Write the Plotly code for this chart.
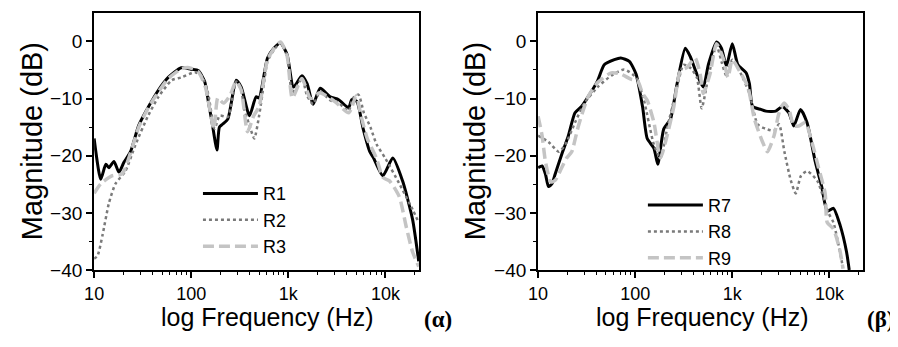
import plotly.graph_objects as go

# ---------------- Panel (α) ----------------
r1_f = [10, 11.7, 13.2, 14.2, 16, 18, 20.2, 23.7, 28.8, 36.4, 46, 58, 79, 100, 118, 138, 150, 165, 184, 195,
        210, 238, 290, 327, 398, 465, 500, 610, 710, 830, 970, 1130, 1380, 1560, 1800, 2130, 2700, 3300,
        4170, 4500, 5080, 5900, 6900, 7500, 9400, 11900, 15000, 19000, 22000]
r1_db = [-17, -24.1, -21.5, -22.1, -21, -22.9, -21.2, -19.3, -14.7, -11.4, -8.5, -6.3, -4.6, -4.9, -5.1, -7.1,
         -10.5, -14.5, -19, -15, -14.5, -13.6, -6.8, -8, -13, -9.7, -9.9, -2.9, -1.2, -0.3, -2.3, -8, -6,
         -7.4, -11, -8.2, -9.7, -10.2, -11.6, -10.2, -10.5, -15.3, -19.3, -20.3, -23.5, -20.4, -24.4, -31.1,
         -38.5]

r2_f = [10, 10.8, 12.2, 14.2, 16.6, 21, 26.6, 36, 46, 63, 79, 109, 127, 149, 174, 196, 238, 290, 327, 352,
        398, 446, 500, 560, 610, 710, 830, 970, 1100, 1380, 1560, 1800, 2130, 2700, 3300, 4170, 4600, 5270,
        6000, 7000, 8100, 10000, 13900, 19000, 22000]
r2_db = [-38, -37.6, -33.9, -28.3, -24.9, -22.7, -18.1, -13, -9.7, -6.8, -6.3, -5.4, -6, -9.1, -15.3, -13,
         -13.2, -7, -8.5, -11.9, -14.7, -17, -13, -7.4, -3.5, -1.5, -0.3, -2.5, -9, -6.5, -9.5, -11, -8.8,
         -10.3, -10.8, -12.2, -10, -9.3, -12.5, -15, -18, -20.5, -24.9, -29.4, -31.7]

r3_f = [10, 11.7, 15.4, 19.4, 23.7, 28.8, 36.4, 46, 58, 79, 95, 118, 140, 171, 188, 215, 250, 290, 327, 380,
        440, 500, 610, 710, 830, 970, 1100, 1380, 1700, 2100, 3000, 4200, 5000, 5600, 6500, 8100, 9400,
        11000, 13900, 16300, 19000, 22000]
r3_db = [-26.6, -24.9, -23.5, -23.2, -19.5, -15, -11.5, -8.8, -6.5, -4.8, -4.6, -5.3, -8, -15.3, -9.9, -10.8,
         -9.5, -7, -8.5, -15.8, -13, -11.4, -3.2, -1.3, -0.1, -2.5, -9.9, -6.5, -10, -9, -10.5, -12.5, -9.5,
         -13, -17, -20.5, -23.8, -24.4, -27.2, -32.3, -36.8, -39.4]

# ---------------- Panel (β) ----------------
r7_f = [10, 11, 11.9, 12.8, 13.9, 15, 17.5, 20.5, 24, 28, 32.7, 41, 48, 61, 71, 87, 102, 119, 133, 156, 171,
        197, 231, 270, 328, 368, 431, 503, 566, 688, 773, 869, 1000, 1142, 1387, 1500, 1622, 1970, 2217,
        2800, 3270, 3830, 4300, 5035, 5880, 7140, 8350, 9500, 11000, 12900, 15000, 16000]
r7_db = [-22.1, -21.8, -23.2, -25.4, -24.9, -23.2, -19.8, -16.5, -12.5, -11.4, -9.7, -6.9, -4.1, -3.2, -2.9,
         -3.5, -5.7, -11.4, -17, -18.7, -21.5, -15.3, -13.6, -7.4, -1.2, -2.6, -5.7, -8, -4.1, -0.1, -1.2,
         -4.3, -0.4, -4.1, -5.5, -7.4, -11.4, -11.9, -12.2, -12.2, -11.4, -12.5, -14.8, -11.9, -14.2, -21,
         -25.5, -29.7, -29.2, -32.2, -36.8, -40]

r8_f = [10, 12.8, 16.3, 19, 24, 30, 41, 56.6, 77, 102, 123, 156, 182, 213, 270, 315, 368, 431, 484, 566, 688,
        773, 869, 1000, 1190, 1500, 1823, 2217, 2690, 3030, 3440, 4000, 4500, 5100, 5900, 7500, 9770, 11000,
        13800]
r8_db = [-16.5, -17.6, -19.3, -18.1, -14.2, -10.8, -8, -6, -4.9, -6.3, -10.3, -18.1, -20.4, -15.3, -8, -4.1,
         -4.6, -6.3, -11.7, -6.3, -0.7, -3.5, -6, -3.2, -5.2, -9.1, -14.5, -15.3, -15.6, -14.5, -19.3, -24.3,
         -26.6, -23.5, -22.7, -24.4, -30, -31.7, -39.6]

r9_f = [10, 11, 11.9, 13.5, 15, 17.5, 19.7, 22.2, 26, 32.7, 41, 56.6, 71, 90, 106, 119, 133, 156, 182, 213,
        250, 291, 340, 414, 466, 503, 589, 688, 804, 903, 1000, 1190, 1450, 1690, 2050, 2300, 2690, 3030,
        3400, 3830, 4300, 4840, 5650, 6600, 7730, 9040, 9500, 11000, 12900, 13800]
r9_db = [-13.1, -16.5, -21, -24.6, -24.3, -22.1, -20.4, -19.3, -14.8, -9.7, -7.2, -5.5, -5.7, -6.6, -6.9,
         -9.1, -10.3, -14.2, -20.4, -16.5, -11.4, -5.2, -4.6, -2.9, -5.7, -9.1, -5.7, -0.4, -2.9, -6.3, -3.2,
         -5.2, -8, -13.6, -17.6, -19.3, -16.5, -12.5, -10.8, -11.9, -14.8, -14.8, -14.2, -17.6, -22.1, -26.6,
         -31.7, -32.8, -36.8, -39.8]

major_x = [10, 100, 1000, 10000]
major_x_text = ["10", "100", "1k", "10k"]
minor_x = [m * d for d in (10, 100, 1000) for m in range(2, 10)] + [20000]
major_y = [-40, -30, -20, -10, 0]
minor_y = [-35, -25, -15, -5]

FONT = "Liberation Sans, Arial, sans-serif"
OFF = 8                                # default page (body) margin of the html page
W, H = 898 - OFF, 347 - 2 * OFF        # figure size so that the page never needs scrollbars


def px(x):   # page pixel -> paper x
    return (x - OFF) / W


def py(y):   # page pixel (from top) -> paper y
    return 1 - (y - OFF) / H


styles = {
    "solid": dict(color="#000000", width=3, dash="solid"),
    "dot": dict(color="#7a7a7a", width=2.5, dash="dot"),
    "dash": dict(color="#c4c4c4", width=3.5, dash="11px,5px"),
}

fig = go.Figure()
series = [
    ("R1", r1_f, r1_db, "solid", "x", "y", "legend"),
    ("R2", r2_f, r2_db, "dot", "x", "y", "legend"),
    ("R3", r3_f, r3_db, "dash", "x", "y", "legend"),
    ("R7", r7_f, r7_db, "solid", "x2", "y2", "legend2"),
    ("R8", r8_f, r8_db, "dot", "x2", "y2", "legend2"),
    ("R9", r9_f, r9_db, "dash", "x2", "y2", "legend2"),
]
for name, f, db, st, xa, ya, lg in series:
    fig.add_trace(go.Scatter(x=f, y=db, name=name, mode="lines", xaxis=xa, yaxis=ya, legend=lg,
                             line=dict(shape="spline", smoothing=0.6, **styles[st]), cliponaxis=True))


def xaxis(domain, anchor):
    return dict(type="log", range=[1, 4.35], domain=domain, anchor=anchor,
                tickvals=major_x, ticktext=major_x_text, ticks="outside", ticklen=6, tickwidth=1.5,
                tickcolor="black", linecolor="black", linewidth=2, mirror=True, showgrid=False,
                zeroline=False, tickfont=dict(family=FONT, size=18, color="black"),
                minor=dict(tickvals=minor_x, ticks="outside", ticklen=3, tickwidth=1.2, tickcolor="black",
                           showgrid=False))


def yaxis(domain, anchor):
    return dict(range=[-40, 5], domain=domain, anchor=anchor,
                tickvals=major_y, ticks="outside", ticklen=6, tickwidth=1.5, tickcolor="black",
                linecolor="black", linewidth=2, mirror=True, showgrid=False, zeroline=False,
                tickfont=dict(family=FONT, size=19, color="black"),
                minor=dict(tickvals=minor_y, ticks="outside", ticklen=3, tickwidth=1.2, tickcolor="black",
                           showgrid=False))


ydom = [py(279), py(13)]
legend_style = dict(font=dict(family=FONT, size=18, color="black"), bgcolor="rgba(0,0,0,0)",
                    itemwidth=55, tracegroupgap=0, xanchor="left", yanchor="top")

fig.update_layout(
    width=W, height=H, margin=dict(l=0, r=0, t=0, b=0),
    paper_bgcolor="white", plot_bgcolor="white", showlegend=True,
    xaxis=xaxis([px(85), px(414)], "y"),
    yaxis=yaxis(ydom, "x"),
    xaxis2=xaxis([px(534), px(863)], "y2"),
    yaxis2=yaxis(ydom, "x2"),
    legend=dict(x=px(190), y=py(181), **legend_style),
    legend2=dict(x=px(640), y=py(193), **legend_style),
)

annots = [
    dict(text="Magnitude (dB)", x=23, y=146, textangle=-90, size=29),
    dict(text="Magnitude (dB)", x=448 + 23, y=146, textangle=-90, size=29),
    dict(text="log Frequency (Hz)", x=260, y=328, textangle=0, size=25),
    dict(text="log Frequency (Hz)", x=700, y=328, textangle=0, size=25),
]
for a in annots:
    fig.add_annotation(text=a["text"], x=px(a["x"]), y=py(a["y"]), xref="paper", yref="paper",
                       showarrow=False, textangle=a["textangle"], xanchor="center", yanchor="middle",
                       font=dict(family=FONT, size=a["size"], color="black"))
for txt, xc in (("<b>(α)</b>", 433), ("<b>(β)</b>", 880)):
    fig.add_annotation(text=txt, x=px(xc), y=py(330), xref="paper", yref="paper", showarrow=False,
                       xanchor="center", yanchor="middle",
                       font=dict(family="Liberation Serif, Times New Roman, serif", size=23, color="black"))

fig.write_html("out.html")
